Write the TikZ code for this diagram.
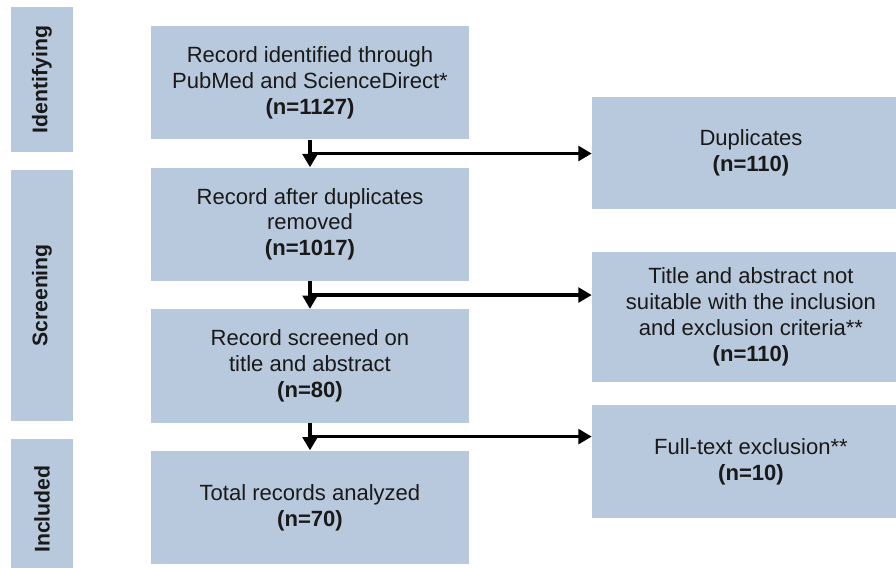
\documentclass[tikz,border=0pt]{standalone}
\usepackage{fontspec}
\setmainfont{Liberation Sans}
\usepackage{xcolor}
\usetikzlibrary{arrows.meta, positioning, calc}
\definecolor{boxblue}{RGB}{185,201,221}

\begin{document}
\begin{tikzpicture}[
    node distance=0.728cm,
    box/.style={fill=boxblue, minimum width=8.414cm, minimum height=3.003cm, align=center, inner sep=0pt, text=black!90, font=\fontsize{16.6}{19.5}\selectfont},
    sidebox/.style={box, minimum height=2.963cm},
    stage/.style={fill=boxblue, minimum width=1.640cm, inner sep=0pt, text=black!90, font=\fontsize{16}{19}\selectfont\bfseries},
    arr/.style={-{Triangle[length=10pt, width=11pt]}, line width=2.8pt},
]
\useasboundingbox (0,0) rectangle (23.707,-15.028);
\clip (0,0) rectangle (23.707,-15.028);

% stages on the left
\node[stage, minimum height=3.836cm] (ident) at (1.111,-2.103) {\rotatebox{90}{Identifying}};
\node[stage, minimum height=6.667cm, below=0.45cm of ident] (screen) {\rotatebox{90}{Screening}};
\node[stage, minimum height=3.704cm, below=0.45cm of screen] (incl) {\rotatebox{90}{Included}};

% main column
\node[box] (rec1) at (8.202,-2.189) {Record identified through\\PubMed and ScienceDirect*\\\textbf{(n=1127)}};
\node[box, below=of rec1] (rec2) {Record after duplicates\\removed\\\textbf{(n=1017)}};
\node[box, below=of rec2] (rec3) {Record screened on\\title and abstract\\\textbf{(n=80)}};
\node[box, below=of rec3] (total) {Total records analyzed\\\textbf{(n=70)}};

% exclusions
\node[sidebox] (dup) at (19.870,-4.048) {Duplicates\\\textbf{(n=110)}};
\node[sidebox, minimum height=3.440cm] (excl1) at (19.870,-8.387) {Title and abstract not\\suitable with the inclusion\\and exclusion criteria**\\\textbf{(n=110)}};
\node[sidebox, minimum height=2.990cm] (excl2) at (19.870,-12.210) {Full-text exclusion**\\\textbf{(n=10)}};

\coordinate (m1) at ($(rec1.south)!0.5!(rec2.north)$);
\coordinate (m2) at ($(rec2.south)!0.5!(rec3.north)$);
\coordinate (m3) at ($(rec3.south)!0.5!(total.north)$);

\draw[arr] (rec1.south) -- (rec2.north);
\draw[arr] (rec2.south) -- (rec3.north);
\draw[arr] (rec3.south) -- (total.north);
\draw[arr] (m1) -- (m1 -| dup.west);
\draw[arr] (m2) -- (m2 -| excl1.west);
\draw[arr] (m3) -- (m3 -| excl2.west);

\end{tikzpicture}
\end{document}
